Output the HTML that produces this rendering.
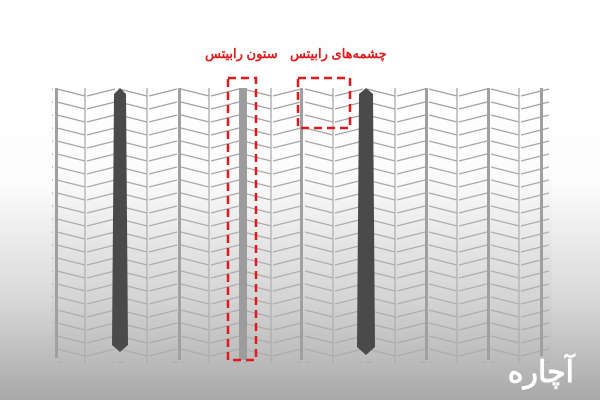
<!DOCTYPE html>
<html><head><meta charset="utf-8"><style>
html,body{margin:0;padding:0}
body{width:600px;height:400px;overflow:hidden;background:linear-gradient(180deg,#fff 0%,#fdfdfd 45%,#d8d8d8 75%,#a8a8a8 100%);font-family:"Liberation Sans","Noto Sans CJK SC",sans-serif;position:relative}
.lbl{position:absolute;top:46px;color:#e0191b;font-weight:bold;font-size:13px;direction:rtl;white-space:nowrap}
</style></head><body>
<svg width="600" height="400" style="position:absolute;left:0;top:0">
<defs>
<pattern id="m" x="55" y="88" width="62" height="13" patternUnits="userSpaceOnUse">
<path d="M2 1 L30 8 M32 8 L60 1 M30 0 V13" stroke="#a0a0a0" stroke-width="1.2" fill="none"/>
</pattern>
<linearGradient id="fade" x1="0" y1="0" x2="0" y2="1">
<stop offset="0" stop-color="#fff" stop-opacity="0"/><stop offset="1" stop-color="#bbb" stop-opacity="0.4"/>
</linearGradient>
</defs>
<rect x="52" y="88" width="500" height="275" fill="url(#m)"/>
<rect x="52" y="88" width="500" height="275" fill="url(#fade)"/>
<g fill="#a0a0a0">
<rect x="55" y="88" width="3" height="270"/>
<rect x="178" y="88" width="3" height="272"/>
<rect x="300" y="88" width="3" height="272"/>
<rect x="425" y="88" width="3" height="272"/>
<rect x="487" y="88" width="3" height="272"/>
<rect x="540" y="88" width="3" height="268"/>
</g>
<rect x="239" y="88" width="8" height="272" fill="#9c9c9c"/>
<path d="M114 94 L120 88 L126 94 L128 345 L120 352 L112 345Z" fill="#4a4a4a"/>
<path d="M359 94 L366 88 L373 94 L375 347 L366 355 L357 347Z" fill="#4a4a4a"/>
<g fill="none" stroke="#e0191b" stroke-width="2.5" stroke-dasharray="8,5">
<rect x="228" y="78" width="28" height="282"/>
<rect x="298" y="78" width="52" height="50"/>
</g>
<text x="574" y="382" font-size="30" font-weight="bold" fill="#fff" text-anchor="end" font-family="Liberation Sans,Noto Sans CJK SC,sans-serif">آچاره</text>
</svg>
<div class="lbl" style="left:205px">ستون رابیتس</div>
<div class="lbl" style="left:290px">چشمه‌های رابیتس</div>
</body></html>
